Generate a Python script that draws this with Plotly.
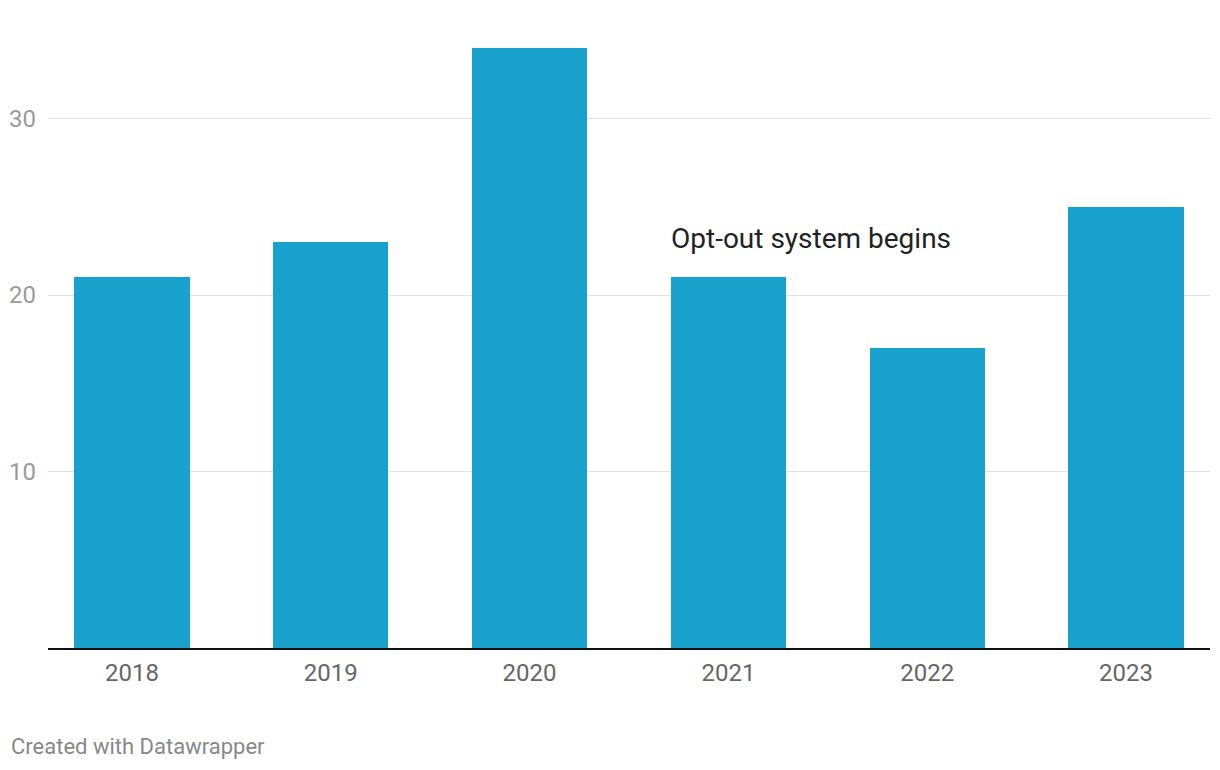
import plotly.graph_objects as go

years = ["2018", "2019", "2020", "2021", "2022", "2023"]
values = [21, 23, 34, 21, 17, 25]
y_ticks = [10, 20, 30]
y_tick_labels = ["10", "20", "30"]

fig = go.Figure()
fig.add_trace(go.Bar(
    x=years, y=values, width=0.58,
    marker=dict(color="#18a1cd", line=dict(width=0)),
    hoverinfo="skip",
))

fig.add_annotation(
    x=2.70, y=23.2, xref="x", yref="y",
    text="Opt-out system begins", showarrow=False,
    xanchor="left", yanchor="middle",
    font=dict(family="Roboto", size=28, color="#222222"),
)
fig.add_annotation(
    x=0, y=0, xref="paper", yref="paper", xshift=-39, yshift=-98,
    text="Created with Datawrapper", showarrow=False,
    xanchor="left", yanchor="middle",
    font=dict(family="Roboto", size=22, color="#888888"),
)

fig.update_layout(
    width=1220, height=770,
    margin=dict(l=48, r=10, t=48, b=122),
    plot_bgcolor="white", paper_bgcolor="white",
    showlegend=False,
    bargap=0,
    font=dict(family="Roboto"),
)
fig.update_xaxes(
    type="category", range=[-0.422, 5.422],
    showline=True, linecolor="#111111", linewidth=2,
    showgrid=False, ticks="", ticklabelstandoff=2,
    tickfont=dict(family="Roboto", size=24, color="#666666"),
)
fig.update_yaxes(
    range=[0, 34], tickvals=y_ticks, ticktext=y_tick_labels,
    showgrid=True, gridcolor="#e2e2e2", gridwidth=1,
    zeroline=False, showline=False, ticks="", ticklabelstandoff=11,
    tickfont=dict(family="Roboto", size=24, color="#9a9a9a"),
)

fig.write_html("out.html", config={"displayModeBar": False},
               post_script="document.body.style.margin='0';")
